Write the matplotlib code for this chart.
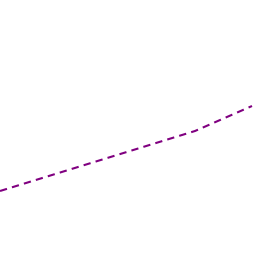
import matplotlib
matplotlib.use('Agg')
from matplotlib import pyplot as plt

# values
x_vals = [0, 195, 252]
y_vals = [65, 125, 150]

fig = plt.figure(figsize=(2.56, 2.56), dpi=100)
ax = fig.add_axes([0, 0, 1, 1])
ax.plot(x_vals, y_vals, color='#800080', lw=1.5, linestyle=(0, (3.5, 2.5)))
ax.set_xlim(0, 256)
ax.set_ylim(0, 256)
ax.axis('off')
fig.savefig('out.png', dpi=100)
